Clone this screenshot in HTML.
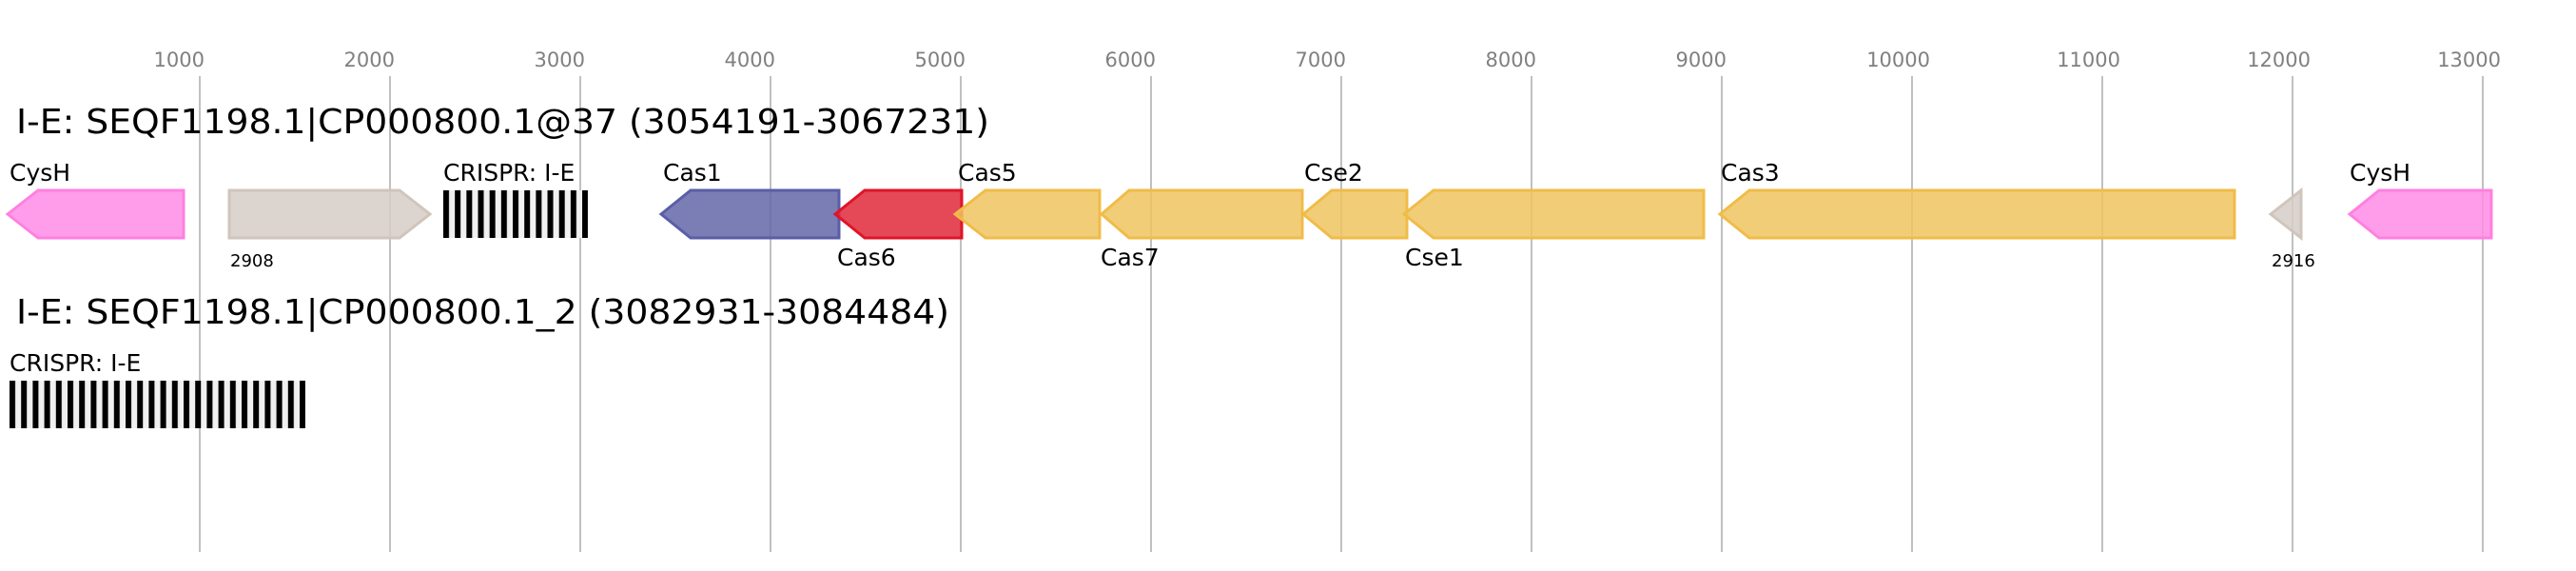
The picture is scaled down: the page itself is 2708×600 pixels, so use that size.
<!DOCTYPE html>
<html><head><meta charset="utf-8"><style>
html,body{margin:0;padding:0;background:#fff;}
svg{display:block;}
text{font-family:"DejaVu Sans","Liberation Sans",sans-serif;}
</style></head><body>
<svg width="2708" height="600" viewBox="0 0 2708 600" xmlns="http://www.w3.org/2000/svg">
<defs>
<pattern id="cr" x="10" y="0" width="12.2" height="600" patternUnits="userSpaceOnUse">
<rect x="0" y="0" width="12.2" height="600" fill="#f0f0f0"/>
<rect x="0" y="0" width="6" height="600" fill="#000"/>
</pattern>
<pattern id="cr1" x="466" y="0" width="12.17" height="600" patternUnits="userSpaceOnUse">
<rect x="0" y="0" width="12.17" height="600" fill="#f0f0f0"/>
<rect x="0" y="0" width="6" height="600" fill="#000"/>
</pattern>
</defs>
<g stroke="#c0c0c0" stroke-width="2">
<line x1="210" y1="80" x2="210" y2="580"/>
<line x1="410" y1="80" x2="410" y2="580"/>
<line x1="610" y1="80" x2="610" y2="580"/>
<line x1="810" y1="80" x2="810" y2="580"/>
<line x1="1010" y1="80" x2="1010" y2="580"/>
<line x1="1210" y1="80" x2="1210" y2="580"/>
<line x1="1410" y1="80" x2="1410" y2="580"/>
<line x1="1610" y1="80" x2="1610" y2="580"/>
<line x1="1810" y1="80" x2="1810" y2="580"/>
<line x1="2010" y1="80" x2="2010" y2="580"/>
<line x1="2210" y1="80" x2="2210" y2="580"/>
<line x1="2410" y1="80" x2="2410" y2="580"/>
<line x1="2610" y1="80" x2="2610" y2="580"/>
</g>
<g fill="#808080" font-size="21" text-anchor="end">
<text x="215" y="70">1000</text>
<text x="415" y="70">2000</text>
<text x="615" y="70">3000</text>
<text x="815" y="70">4000</text>
<text x="1015" y="70">5000</text>
<text x="1215" y="70">6000</text>
<text x="1415" y="70">7000</text>
<text x="1615" y="70">8000</text>
<text x="1815" y="70">9000</text>
<text x="2029" y="70">10000</text>
<text x="2229" y="70">11000</text>
<text x="2429" y="70">12000</text>
<text x="2629" y="70">13000</text>
</g>
<text x="17" y="140" font-size="36" fill="#000" textLength="1023" lengthAdjust="spacingAndGlyphs">I-E: SEQF1198.1|CP000800.1@37 (3054191-3067231)</text>
<text x="17" y="340" font-size="36" fill="#000" textLength="981" lengthAdjust="spacingAndGlyphs">I-E: SEQF1198.1|CP000800.1_2 (3082931-3084484)</text>

<g stroke-width="3" fill-opacity="0.85">
<polygon points="8,225 40,200 193,200 193,250 40,250" fill="#ff8ce6" stroke="#ff80e0"/>
<polygon points="241,200 420,200 452,225 420,250 241,250" fill="#d6cdc7" stroke="#d0c5bc"/>
<polygon points="695,225 726,200 882,200 882,250 726,250" fill="#6466a8" stroke="#5a5ea8"/>
<polygon points="878,225 909,200 1011,200 1011,250 909,250" fill="#e02838" stroke="#e01428"/>
<polygon points="1004,225 1036,200 1156,200 1156,250 1036,250" fill="#f0c460" stroke="#f0bc48"/>
<polygon points="1158,225 1187,200 1369,200 1369,250 1187,250" fill="#f0c460" stroke="#f0bc48"/>
<polygon points="1370,225 1400,200 1479,200 1479,250 1400,250" fill="#f0c460" stroke="#f0bc48"/>
<polygon points="1476,225 1507,200 1791,200 1791,250 1507,250" fill="#f0c460" stroke="#f0bc48"/>
<polygon points="1808,225 1839,200 2349,200 2349,250 1839,250" fill="#f0c460" stroke="#f0bc48"/>
<polygon points="2387,225 2419,200 2419,250" fill="#d6cdc7" stroke="#d0c5bc"/>
<polygon points="2470,225 2501,200 2619,200 2619,250 2501,250" fill="#ff8ce6" stroke="#ff80e0"/>
</g>
<rect x="466" y="200" width="152" height="50" fill="url(#cr1)"/>
<rect x="10" y="400" width="311" height="50" fill="url(#cr)"/>

<g font-size="25" fill="#000">
<text x="10" y="190">CysH</text>
<text x="466" y="190">CRISPR: I-E</text>
<text x="697" y="190">Cas1</text>
<text x="1007" y="190">Cas5</text>
<text x="1371" y="190">Cse2</text>
<text x="1809" y="190">Cas3</text>
<text x="2470" y="190">CysH</text>
<text x="880" y="279">Cas6</text>
<text x="1157" y="279">Cas7</text>
<text x="1477" y="279">Cse1</text>
<text x="10" y="390">CRISPR: I-E</text>
</g>
<g font-size="18" fill="#000">
<text x="242" y="280">2908</text>
<text x="2388" y="280">2916</text>
</g>
</svg>
</body></html>
